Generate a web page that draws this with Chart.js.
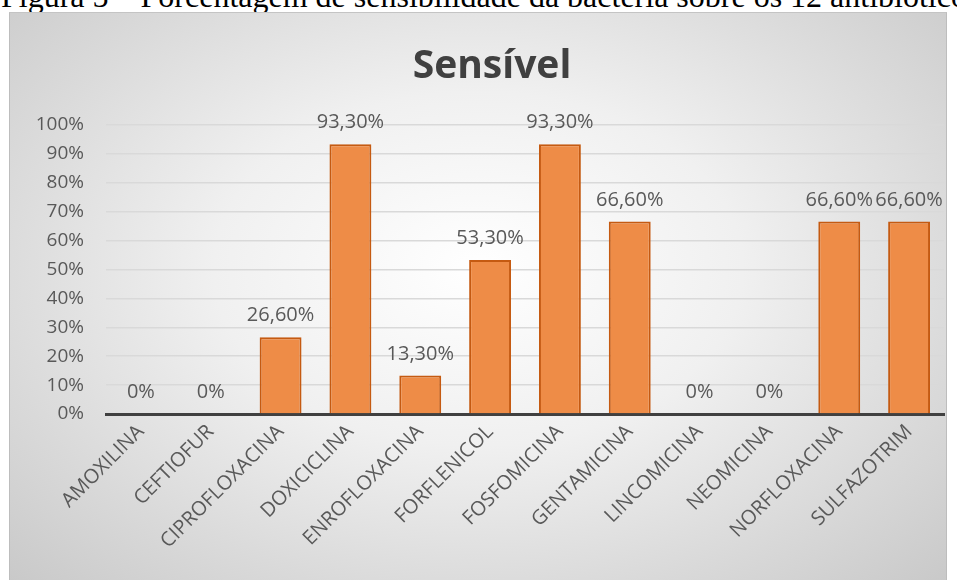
<!DOCTYPE html>
<html>
<head>
<meta charset="utf-8">
<script src="https://cdn.jsdelivr.net/npm/chart.js@4.4.0/dist/chart.umd.min.js"></script>
<style>
    body { margin: 0; background: #fff; width: 957px; height: 580px; overflow: hidden; position: relative; }
    #caption {
        position: absolute; left: 1px; top: -22px; white-space: nowrap;
        font-family: "Liberation Serif", "Times New Roman", serif; font-size: 32px; line-height: 36px; color: #000;
    }
    #chartBox {
        position: absolute; left: 9px; top: 12px; width: 936px; height: 568px;
        background: radial-gradient(ellipse at 50% 45%, #ffffff 0%, #f0f0f0 40%, #d9d9d9 75%, #c9c9c9 100%);
        border-left: 1px solid #bdbdbd; border-top: 1px solid #c4c4c4; border-right: 1px solid #bdbdbd;
    }
</style>
</head>
<body>
<div id="caption">Figura 5 – Porcentagem de sensibilidade da bactéria sobre os 12 antibióticos</div>
<div id="chartBox"><canvas id="sensivelChart"></canvas></div>
<script>
// Data
const antibioticos = ['AMOXILINA', 'CEFTIOFUR', 'CIPROFLOXACINA', 'DOXICICLINA', 'ENROFLOXACINA', 'FORFLENICOL',
    'FOSFOMICINA', 'GENTAMICINA', 'LINCOMICINA', 'NEOMICINA', 'NORFLOXACINA', 'SULFAZOTRIM'];
const sensivel = [0, 0, 26.6, 93.3, 13.3, 53.3, 93.3, 66.6, 0, 0, 66.6, 66.6];
const yTicks = [0, 10, 20, 30, 40, 50, 60, 70, 80, 90, 100];
const chartTitle = 'Sensível';

function pct(v) {
    return v === 0 ? '0%' : v.toFixed(2).replace('.', ',') + '%';
}

// title + value labels above each bar
const barLabels = {
    id: 'barLabels',
    afterDatasetsDraw(chart) {
        const ctx = chart.ctx;
        ctx.save();
        ctx.font = 'bold 39px "Open Sans"';
        ctx.fillStyle = '#404040';
        ctx.textAlign = 'center';
        ctx.textBaseline = 'middle';
        ctx.fillText(chartTitle, 482, 54);

        ctx.font = '20px "Open Sans"';
        ctx.fillStyle = '#595959';
        ctx.textBaseline = 'alphabetic';
        chart.getDatasetMeta(0).data.forEach(function (bar, i) {
            ctx.fillText(pct(sensivel[i]), bar.x, bar.y - 16);
        });
        ctx.restore();
    }
};

document.addEventListener('DOMContentLoaded', function () {
    const canvas = document.getElementById('sensivelChart').getContext('2d');
    new Chart(canvas, {
        type: 'bar',
        data: {
            labels: antibioticos,
            datasets: [{
                label: 'Sensível',
                data: sensivel,
                backgroundColor: '#EE8C47',
                borderColor: '#C55A11',
                borderWidth: 2,
                borderSkipped: 'bottom',
                categoryPercentage: 1,
                barPercentage: 0.6,
            }]
        },
        options: {
            responsive: true,
            maintainAspectRatio: false,
            animation: false,
            layout: { padding: { left: 0, right: 2, top: 112, bottom: 0 } },
            plugins: {
                legend: { display: false },
                tooltip: { enabled: false },
                title: { display: false }
            },
            scales: {
                x: {
                    grid: { display: false, drawTicks: false },
                    border: { display: true, color: '#404040', width: 3 },
                    ticks: {
                        color: '#595959',
                        font: { family: 'Open Sans', size: 20 },
                        minRotation: 45,
                        maxRotation: 45,
                        padding: 6,
                        autoSkip: false
                    },
                    afterFit: function (scale) { scale.height = 167; }
                },
                y: {
                    min: 0,
                    max: 100,
                    afterBuildTicks: function (scale) {
                        scale.ticks = yTicks.map(function (v) { return { value: v }; });
                    },
                    grid: { color: '#d9d9d9', lineWidth: 1.5, drawTicks: false },
                    border: { display: false },
                    ticks: {
                        color: '#595959',
                        font: { family: 'Open Sans', size: 19 },
                        padding: 22,
                        callback: function (v) { return v + '%'; }
                    },
                    afterFit: function (scale) { scale.width = 96; }
                }
            }
        },
        plugins: [barLabels]
    });
});
</script>
</body>
</html>
